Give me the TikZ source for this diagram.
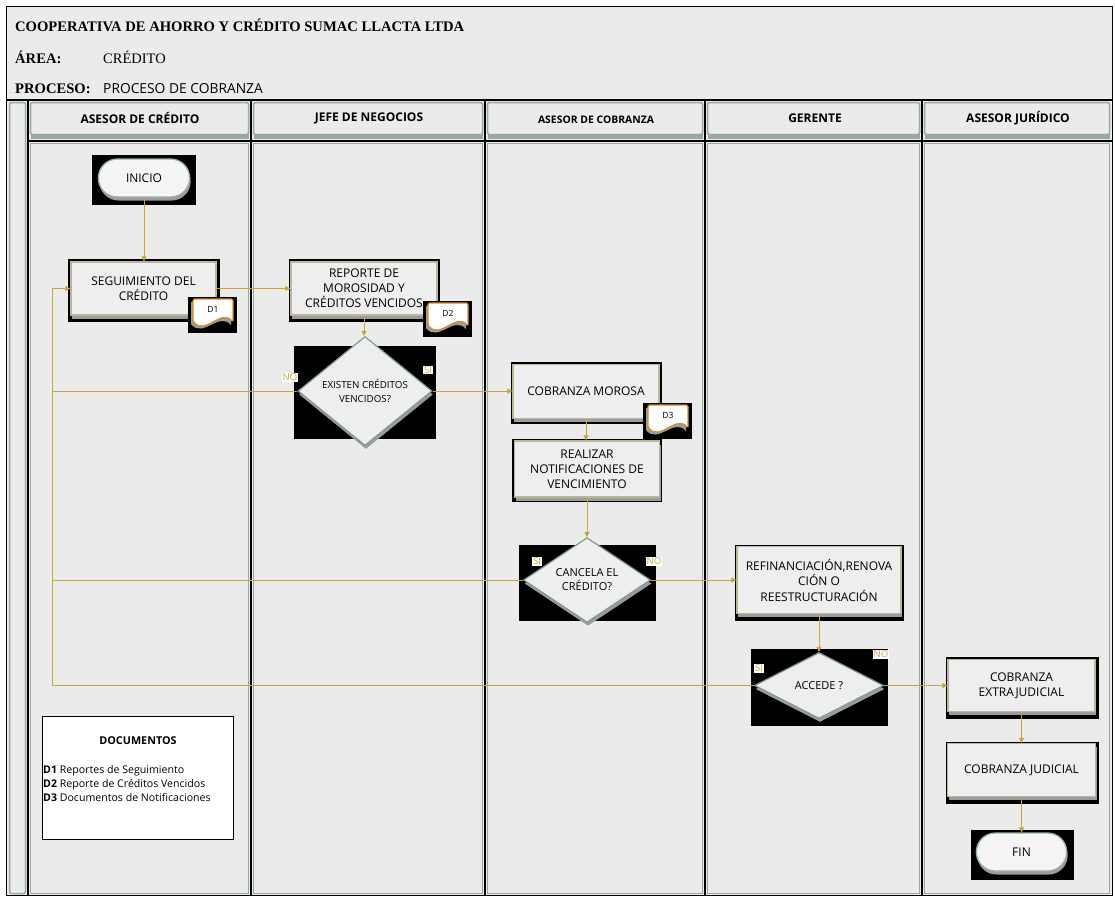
\documentclass[tikz,border=0pt]{standalone}
\usepackage{fontspec}
\setmainfont{Liberation Serif}
\newfontfamily\ui{Open Sans}
\usetikzlibrary{shapes.geometric,shapes.misc,shadows,arrows.meta}
\definecolor{bgc}{HTML}{EBEBEB}
\definecolor{gold}{HTML}{C9A53D}
\definecolor{boxfill}{HTML}{EEEEEE}
\definecolor{boxedge}{HTML}{BDB59D}
\definecolor{diaedge}{HTML}{7F9B93}
\definecolor{laneedge}{HTML}{9AA8A2}
\definecolor{shadowgray}{HTML}{9C9C9C}
\definecolor{docedge}{HTML}{D98B2B}
\newcommand\mkdocshape[4]{%
  \fill[black] (#2-25,#3-17) rectangle (#2+24,#3+19);
  \path[fill=shadowgray] (#2-22,#3-12) -- (#2+18,#3-12) -- (#2+18,#3+11) .. controls (#2+6,#3-3) and (#2-10,#3+25) .. (#2-22,#3+10) -- cycle;
  \path[draw=docedge, fill=white, line width=1.2pt, rounded corners=1.5pt] (#2-20,#3-15) -- (#2+20,#3-15) -- (#2+20,#3+8) .. controls (#2+8,#3-6) and (#2-8,#3+22) .. (#2-20,#3+7) -- cycle;
  \node[doclbl] (#1) at (#2,#3-5) {#4};
}
\tikzset{
  conn/.style={draw=gold, line width=0.9pt},
  arr/.style={conn, -{Triangle[length=5pt,width=5pt]}},
  shad/.style={drop shadow={shadow xshift=1pt, shadow yshift=-3.5pt, fill=shadowgray, opacity=1}},
  procbox/.style={rectangle, fill=boxfill, draw=boxedge, line width=1.3pt, align=center, inner sep=1pt, font=\ui\fontsize{12}{15}\selectfont, shad},
  decision/.style={diamond, fill=boxfill, draw=diaedge, line width=1.2pt, align=center, inner sep=0pt, shad},
  terminal/.style={rounded rectangle, fill=boxfill!60!white, draw=diaedge!80!white, line width=1.3pt, font=\ui\fontsize{12}{14}\selectfont, shad},
  blackbg/.style={fill=black},
  lbl/.style={fill=white, text=gold, font=\ui\fontsize{9.5}{11}\selectfont, inner sep=1pt},
  doclbl/.style={font=\ui\fontsize{8.5}{10}\selectfont, inner sep=0pt},
  lanehead/.style={font=\ui\bfseries\fontsize{12}{14}\selectfont, inner sep=0pt},
  hdr/.style={anchor=base west, inner sep=0pt, font=\bfseries\fontsize{14.6}{17}\selectfont},
}
\begin{document}
\begin{tikzpicture}[x=1pt,y=-1pt]
\useasboundingbox (0,0) rectangle (1115,898);
\fill[white] (0,0) rectangle (1115,898);
\fill[bgc] (6.5,6.5) rectangle (1112.5,895.5);
% header texts
\node[hdr] (title) at (15,31) {COOPERATIVA DE AHORRO Y CRÉDITO SUMAC LLACTA LTDA};
\node[hdr] (arealbl) at (15,63) {ÁREA:};
\node[hdr, font=\fontsize{14.5}{17}\selectfont] (area) at (103,63) {CRÉDITO};
\node[hdr] (proclbl) at (15,93) {PROCESO:};
\node[hdr, font=\ui\fontsize{13.8}{16}\selectfont] (proc) at (103,93) {PROCESO DE COBRANZA};
% lanes
\draw[laneedge, line width=1.5pt, rounded corners=2pt] (9.5,102.5) rectangle (25.5,893.5);
\foreach \a/\b in {28/251,251/485,485/705,705/922,922/1112} {
  \fill[laneedge] (\a+2.5,106) rectangle (\b-2.5,139);
  \draw[laneedge, line width=1.5pt, fill=bgc, rounded corners=2pt] (\a+2.5,102.5) rectangle (\b-2.5,134.5);
  \draw[laneedge, line width=1.5pt] (\a+2.5,143.5) rectangle (\b-2.5,893.5);
}
\foreach \a in {28,251,485,705,922} \draw[line width=1.6pt] (\a,100) -- (\a,895.5);
\draw[line width=1.6pt] (6.5,100) -- (1112.5,100);
\draw[line width=1.6pt] (27,141) -- (1112.5,141);
\draw[line width=1.5pt] (6.5,6.5) rectangle (1112.5,895.5);
\node[lanehead] (h1) at (140,118) {ASESOR DE CRÉDITO};
\node[lanehead] (h2) at (369,118) {JEFE DE NEGOCIOS};
\node[lanehead, font=\ui\bfseries\fontsize{10.4}{12}\selectfont] (h3) at (596,120) {ASESOR DE COBRANZA};
\node[lanehead] (h4) at (815,118) {GERENTE};
\node[lanehead] (h5) at (1018,118) {ASESOR JURÍDICO};
% black backgrounds
\fill[blackbg] (92,155) rectangle (196,205);
\fill[blackbg] (68,259) rectangle (220,322);
\fill[blackbg] (289,259) rectangle (440,322);
\fill[blackbg] (294,346) rectangle (436,439);
\fill[blackbg] (511,362) rectangle (662,424);
\fill[blackbg] (512,439) rectangle (662,502);
\fill[blackbg] (519,545) rectangle (656,621);
\fill[blackbg] (735,545) rectangle (904,621);
\fill[blackbg] (751,649) rectangle (888,726);
\fill[blackbg] (946,657) rectangle (1099,719);
\fill[blackbg] (946,742) rectangle (1099,804);
\fill[blackbg] (971,830) rectangle (1074,880);
% nodes
\node[terminal, minimum width=98, minimum height=38] (inicio) at (144,178) {INICIO};
\node[procbox, minimum width=145, minimum height=53] (seg) at (143.5,288.5) {SEGUIMIENTO DEL\\CRÉDITO};
\node[procbox, minimum width=146, minimum height=53] (rep) at (364,288.5) {REPORTE DE\\MOROSIDAD Y\\CRÉDITOS VENCIDOS};
\node[decision, minimum width=134, minimum height=82, font=\ui\fontsize{9.8}{14}\selectfont] (q1) at (365,391) {EXISTEN CRÉDITOS\\VENCIDOS?};
\node[procbox, minimum width=146, minimum height=54] (morosa) at (586,391.5) {COBRANZA MOROSA};
\node[procbox, minimum width=145, minimum height=56] (notif) at (587,469) {REALIZAR\\NOTIFICACIONES DE\\VENCIMIENTO};
\node[decision, minimum width=127, minimum height=64, font=\ui\fontsize{11}{14}\selectfont] (q2) at (587,580) {CANCELA EL\\CRÉDITO?};
\node[procbox, minimum width=164, minimum height=67, font=\ui\fontsize{12}{15.5}\selectfont] (refin) at (819,580) {REFINANCIACIÓN,RENOVA\\CIÓN O\\REESTRUCTURACIÓN};
\node[decision, minimum width=129, minimum height=66, font=\ui\fontsize{11}{14}\selectfont] (q3) at (819,685.5) {ACCEDE ?};
\node[procbox, minimum width=147, minimum height=52] (extra) at (1021.5,685.5) {COBRANZA\\EXTRAJUDICIAL};
\node[procbox, minimum width=148, minimum height=53] (judicial) at (1021.5,770) {COBRANZA JUDICIAL};
\node[terminal, minimum width=97, minimum height=38] (fin) at (1021.5,852) {FIN};
% documents
\mkdocshape{d1}{213}{314}{D1}
\mkdocshape{d2}{448}{318}{D2}
\mkdocshape{d3}{668}{420}{D3}
% connectors
\coordinate (loopT) at (52,288.5);
\coordinate (loopB) at (52,685.5);
\draw[arr] (inicio.south) -- (inicio.south |- seg.north);
\draw[arr] (seg.east) -- (rep.west);
\draw[arr] (rep.south) -- (rep.south |- q1.north);
\draw[arr] (q1.east) -- (q1.east -| morosa.west);
\draw[arr] (morosa.south) -- (morosa.south |- notif.north);
\draw[arr] (notif.south) -- (q2.north);
\draw[arr] (q2.east) -- (refin.west);
\draw[arr] (refin.south) -- (q3.north);
\draw[arr] (q3.east) -- (extra.west);
\draw[arr] (extra.south) -- (judicial.north);
\draw[arr] (judicial.south) -- (fin.north);
\draw[arr] (q3.west) -- (loopB) -- (loopT) -- (seg.west);
\draw[conn] (q1.west) -- (q1.west -| loopT);
\draw[conn] (q2.west) -- (q2.west -| loopT);
% branch labels
\node[lbl] (no1) at (290,377) {NO};
\node[lbl] (si1) at (428,370) {SI};
\node[lbl] (si2) at (537,561) {SI};
\node[lbl] (no2) at (654,561) {NO};
\node[lbl] (si3) at (759,668) {SI};
\node[lbl] (no3) at (881,654) {NO};
% legend
\node[draw=black, fill=white, line width=0.7pt, minimum width=191, minimum height=123, anchor=north west, inner sep=0pt] (legend) at (42,716) {};
\node[font=\ui\bfseries\fontsize{10.8}{12}\selectfont, inner sep=0pt] (legt) at (138,741) {DOCUMENTOS};
\node[anchor=west, align=left, inner sep=0pt, font=\ui\fontsize{10.6}{14}\selectfont] (legl) at (43,784) {\textbf{D1} Reportes de Seguimiento\\\textbf{D2} Reporte de Créditos Vencidos\\\textbf{D3} Documentos de Notificaciones};
\end{tikzpicture}
\end{document}
